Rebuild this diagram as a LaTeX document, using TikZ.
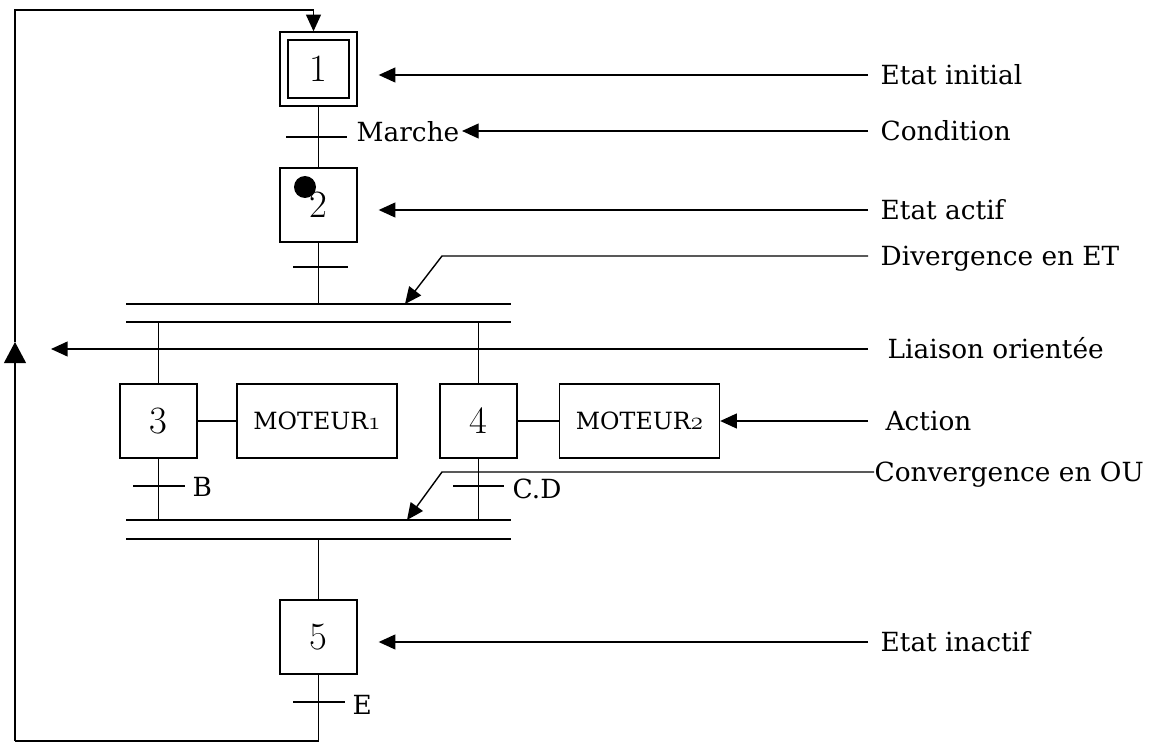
\documentclass[tikz,border=0pt]{standalone}
\usepackage{fontspec}
\newfontfamily\lblfont{DejaVu Serif}
\newcommand\osnum[1]{{\usefont{OML}{cmm}{m}{it}#1}}
\usetikzlibrary{arrows.meta}

\tikzset{
  stepbox/.style={draw, minimum width=1.54cm, minimum height=1.48cm, inner sep=0pt,
    font=\fontsize{22}{24}\selectfont},
  actbox/.style={draw, minimum width=3.2cm, minimum height=1.48cm, inner sep=0pt,
    font=\lblfont\fontsize{13.5}{16}\selectfont},
  lbl/.style={anchor=west, inner sep=0pt, text height=11pt, text depth=0pt,
    font=\lblfont\fontsize{15}{18}\selectfont},
  cond/.style={anchor=base west, inner sep=0pt, font=\lblfont\fontsize{15}{18}\selectfont},
  pointer/.style={-{Triangle[length=9.5pt,width=8.5pt]}},
  bigtip/.style={-{Triangle[length=12pt,width=12.5pt]}}
}

\begin{document}
\begin{tikzpicture}[x=0.02cm, y=-0.02cm, line width=0.8pt]
  \useasboundingbox (0,0) rectangle (1154,743);

  % Steps
  \node[stepbox] (s1) at (318.5,69) {1};
  \node[draw, minimum width=1.22cm, minimum height=1.16cm] (s1in) at (s1) {};
  \node[stepbox] (s2) at (318.5,205) {2};
  \node[stepbox] (s3) at (158.5,421) {3};
  \node[stepbox] (s4) at (478.5,421) {4};
  \node[stepbox] (s5) at (318.5,637) {5};
  \fill (305,187) circle (0.22cm);

  % Actions
  \node[actbox] (m1) at (317,421) {MOTEUR\osnum{1}};
  \node[actbox] (m2) at (639.5,421) {MOTEUR\osnum{2}};

  % Bars
  \coordinate (d1L) at (126,304);
  \coordinate (d1R) at (511,304);
  \coordinate (d2L) at (126,322);
  \coordinate (d2R) at (511,322);
  \coordinate (c1L) at (126,520);
  \coordinate (c1R) at (511,520);
  \coordinate (c2L) at (126,539);
  \coordinate (c2R) at (511,539);
  \draw (d1L) -- (d1R);
  \draw (d2L) -- (d2R);
  \draw (c1L) -- (c1R);
  \draw (c2L) -- (c2R);

  % Links
  \draw (s1.south) -- (s2.north);
  \draw (s2.south) -- (s2.south |- d1L);
  \draw (s3.north) -- (s3.north |- d2L);
  \draw (s4.north) -- (s4.north |- d2L);
  \draw (s3.south) -- (s3.south |- c1L);
  \draw (s4.south) -- (s4.south |- c1L);
  \draw (s5.north) -- (s5.north |- c2L);
  \draw (s3.east) -- (m1.west);
  \draw (s4.east) -- (m2.west);

  % Transitions
  \coordinate (t1) at (318.5,137);
  \coordinate (t2) at (318.5,267);
  \coordinate (tB) at (158.5,486);
  \coordinate (tCD) at (478.5,486);
  \coordinate (tE) at (318.5,702);
  \draw ([xshift=-0.65cm]t1) -- ([xshift=0.58cm]t1);
  \draw ([xshift=-0.51cm]t2) -- ([xshift=0.59cm]t2);
  \draw ([xshift=-0.51cm]tB) -- ([xshift=0.53cm]tB);
  \draw ([xshift=-0.51cm]tCD) -- ([xshift=0.52cm]tCD);
  \draw ([xshift=-0.51cm]tE) -- ([xshift=0.53cm]tE);
  \node[cond] (tMarche) at (356,142) {Marche};
  \node[cond] (tBl) at (192,497) {B};
  \node[cond] (tCDl) at (512,499) {C.D};
  \node[cond] (tEl) at (352,714) {E};

  % Loop back to step 1
  \coordinate (loopB) at (318.5,741);
  \coordinate (loopL) at (15,741);
  \coordinate (loopM) at (15,342);
  \coordinate (loopT) at (15,10);
  \draw (s5.south) -- (loopB) -- (loopL);
  \draw[bigtip] (loopL) -- (loopM);
  \draw[pointer] (loopM) -- (loopT) -| ([xshift=-0.1cm]s1.north);

  % Labels
  \node[lbl] (lInit) at (880,75) {Etat initial};
  \node[lbl] (lCond) at (880,131) {Condition};
  \node[lbl] (lActif) at (880,210) {Etat actif};
  \node[lbl] (lDiv) at (880,256) {Divergence en ET};
  \node[lbl] (lLia) at (887,349) {Liaison orientée};
  \node[lbl] (lAct) at (885,421) {Action};
  \node[lbl] (lConv) at (874,472) {Convergence en OU};
  \node[lbl] (lInact) at (880,642) {Etat inactif};

  \coordinate (lia) at (51,349);
  \coordinate (divK) at (442,256);
  \coordinate (divT) at (405,304);
  \coordinate (convK) at (442,472);
  \coordinate (convT) at (407,520);

  \draw[pointer] ([xshift=-0.24cm]lInit.west) -- (lInit.west -| s1.east) [shorten >=0.42cm];
  \draw[pointer] ([xshift=-0.24cm]lCond.west) -- (lCond.west -| tMarche.east) [shorten >=0.04cm];
  \draw[pointer] ([xshift=-0.24cm]lActif.west) -- (lActif.west -| s2.east) [shorten >=0.42cm];
  \draw[pointer] ([xshift=-0.24cm]lDiv.west) -- (divK) -- (divT);
  \draw[pointer] ([xshift=-0.38cm]lLia.west) -- (lia);
  \draw[pointer] ([xshift=-0.34cm]lAct.west) -- (m2.east);
  \draw[pointer] (lConv.west) -- (convK) -- (convT);
  \draw[pointer] ([xshift=-0.24cm]lInact.west) -- (lInact.west -| s5.east) [shorten >=0.42cm];

\end{tikzpicture}
\end{document}
